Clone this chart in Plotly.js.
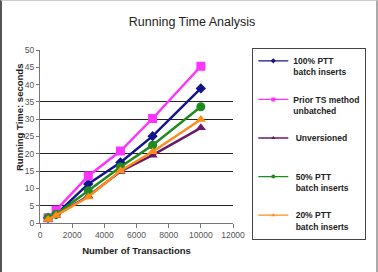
<!DOCTYPE html>
<html>
<head>
<meta charset="utf-8">
<script src="https://cdn.plot.ly/plotly-3.0.1.min.js"></script>
<style>
html,body{margin:0;padding:0;background:#fff;}
#wrap{position:relative;width:378px;height:272px;overflow:hidden;}
#plot{position:absolute;left:0;top:0;width:378px;height:272px;}
#frame{position:absolute;left:0;top:0;width:378px;height:272px;box-sizing:border-box;border-left:2px solid #555;border-right:2px solid #aaa;border-top:1px solid #ccc;pointer-events:none;}
</style>
</head>
<body>
<div id="wrap"><div id="plot"></div><div id="frame"></div></div>
<script>
const transactions = [500, 1000, 3000, 5000, 7000, 10000];
const ptt100 = [1.5, 2.5, 11.3, 17.5, 25.1, 38.9];
const priorTS = [1.5, 3.7, 13.6, 20.8, 30.2, 45.3];
const unversioned = [1.0, 2.2, 7.8, 14.9, 19.6, 27.5];
const ptt50 = [1.5, 2.5, 9.3, 16.2, 22.5, 33.6];
const ptt20 = [1.0, 2.2, 7.5, 15.1, 20.6, 29.9];

const seriesNames = [
  "100% PTT<br>batch inserts",
  "Prior TS method<br>unbatched",
  " Unversioned<br>\u00a0",
  " 50% PTT<br> batch inserts",
  " 20% PTT<br> batch inserts"
];
const seriesValues = [ptt100, priorTS, unversioned, ptt50, ptt20];
const seriesColors = ["#14148a", "#ff33ff", "#6a1a6a", "#1f8a1f", "#ff8c1a"];
const seriesSymbols = ["diamond", "square", "triangle-up", "circle", "triangle-up"];
const seriesSizes = [8, 9, 9, 9, 9];

const xTickVals = [0, 2000, 4000, 6000, 8000, 10000, 12000];
const yTickVals = [0, 5, 10, 15, 20, 25, 30, 35, 40, 45, 50];
const gridVals = [5, 15, 20, 30, 35, 50];

const traces = seriesValues.map((vals, i) => ({
  x: transactions,
  y: vals,
  name: seriesNames[i],
  showlegend: false,
  type: "scatter",
  mode: "lines+markers",
  cliponaxis: false,
  line: {color: seriesColors[i], width: 2.5},
  marker: {color: seriesColors[i], symbol: seriesSymbols[i], size: seriesSizes[i]}
}));
// legend entries with small symbols (no data drawn)
seriesNames.forEach((nm, i) => {
  traces.push({
    x: [null], y: [null],
    name: nm,
    legendgroup: "g" + i,
    showlegend: true,
    type: "scatter",
    mode: "lines+markers",
    line: {color: seriesColors[i], width: 1.3},
    marker: {color: seriesColors[i], symbol: seriesSymbols[i], size: 4}
  });
});
// helper trace for grid axis
traces.push({x: [0], y: [0], yaxis: "y2", mode: "markers", marker: {opacity: 0}, showlegend: false, hoverinfo: "skip"});

const tickFont = {family: "Liberation Sans, Arial", size: 8.5, color: "#555"};
const titleFont = {family: "Liberation Sans, Arial", size: 9.5, color: "#222", weight: "bold"};

const layout = {
  width: 378,
  height: 272,
  paper_bgcolor: "rgba(0,0,0,0)",
  plot_bgcolor: "rgba(0,0,0,0)",
  margin: {l: 40, r: 133, t: 50, b: 49},
  title: {
    text: "Running Time Analysis",
    font: {family: "Liberation Sans, Arial", size: 12.5, color: "#222"},
    x: 0.508, xanchor: "center", y: 0.92, yanchor: "middle"
  },
  xaxis: {
    range: [0, 12000],
    tickvals: xTickVals,
    ticktext: xTickVals.map(String),
    ticks: "outside", ticklen: 4, tickcolor: "#777",
    showline: true, linecolor: "#777", linewidth: 1,
    showgrid: false, zeroline: false,
    tickfont: tickFont,
    title: {text: "Number of Transactions", font: titleFont, standoff: 8}
  },
  yaxis: {
    range: [0, 50],
    tickvals: yTickVals,
    ticktext: yTickVals.map(String),
    ticks: "outside", ticklen: 3, tickcolor: "#777",
    showline: true, linecolor: "#777", linewidth: 1,
    showgrid: false, zeroline: false,
    tickfont: tickFont
  },
  yaxis2: {
    range: [0, 50],
    overlaying: "y",
    tickvals: gridVals,
    showticklabels: false,
    ticks: "",
    showgrid: true, gridcolor: "#222", gridwidth: 1,
    showline: false, zeroline: false
  },
  annotations: [{
    text: "Running Time: seconds",
    font: titleFont,
    textangle: -90,
    xref: "paper", yref: "paper",
    x: -0.109, xanchor: "center",
    y: 0.612, yanchor: "middle",
    showarrow: false
  }],
  legend: {
    x: 1.1, xanchor: "left",
    y: 1.013, yanchor: "top",
    bordercolor: "#444", borderwidth: 1,
    bgcolor: "#fff",
    font: {family: "Liberation Sans, Arial", size: 8.5, color: "#222", weight: "bold"},
    valign: "top",
    tracegroupgap: 13.5,
    traceorder: "grouped",
    maxheight: 260
  },
  showlegend: true
};

Plotly.newPlot("plot", traces, layout, {staticPlot: true, displayModeBar: false});
</script>
</body>
</html>
